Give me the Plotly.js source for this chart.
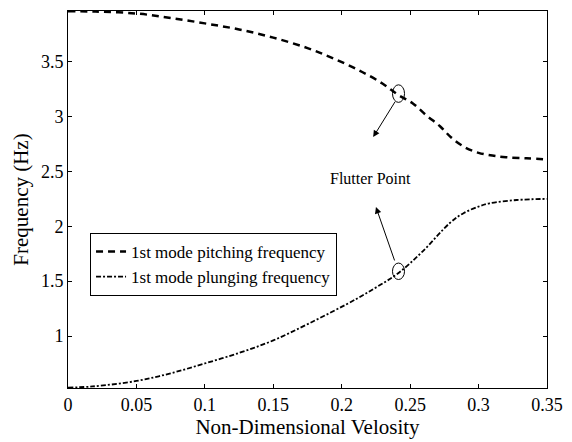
<!DOCTYPE html>
<html>
<head>
<meta charset="utf-8">
<script src="https://cdn.plot.ly/plotly-3.0.1.min.js"></script>
<style>html,body{margin:0;padding:0;background:#fff;}#chart{width:572px;height:442px;}</style>
</head>
<body>
<div id="chart"></div>
<script>
const vPitch = [0, 0.02, 0.05, 0.075, 0.1, 0.125, 0.15, 0.175, 0.194, 0.213, 0.23, 0.241, 0.252, 0.262, 0.272, 0.28, 0.29, 0.3, 0.31, 0.32, 0.335, 0.35];
const fPitch = [3.96, 3.958, 3.94, 3.90, 3.85, 3.795, 3.72, 3.625, 3.53, 3.42, 3.30, 3.20, 3.12, 3.01, 2.91, 2.81, 2.72, 2.67, 2.645, 2.63, 2.62, 2.61];
const vPlunge = [0, 0.018, 0.05, 0.075, 0.1, 0.126, 0.15, 0.177, 0.211, 0.226, 0.241, 0.259, 0.279, 0.289, 0.3, 0.308, 0.328, 0.35];
const fPlunge = [0.53, 0.54, 0.59, 0.66, 0.75, 0.85, 0.96, 1.12, 1.34, 1.45, 1.57, 1.77, 2.03, 2.12, 2.18, 2.21, 2.24, 2.25];
const seriesNames = ["1st mode pitching frequency", "1st mode plunging frequency"];
const xTicks = [0, 0.05, 0.1, 0.15, 0.2, 0.25, 0.3, 0.35];
const yTicks = [1, 1.5, 2, 2.5, 3, 3.5];
const flutterV = 0.2415;
const flutterPitch = 3.21;
const flutterPlunge = 1.59;

const font = "Liberation Serif, Times New Roman, serif";

const traces = [
  {x: vPitch, y: fPitch, name: seriesNames[0], mode: "lines",
   line: {color: "#000", width: 2.5, dash: "7px,5px", shape: "spline", smoothing: 1}},
  {x: vPlunge, y: fPlunge, name: seriesNames[1], mode: "lines",
   line: {color: "#000", width: 1.8, dash: "5px,2px,2px,2px", shape: "spline", smoothing: 1}}
];

const layout = {
  width: 572, height: 442,
  margin: {l: 68, r: 25, t: 11, b: 54},
  paper_bgcolor: "#fff", plot_bgcolor: "#fff",
  font: {family: font, size: 18, color: "#000"},
  showlegend: true,
  legend: {x: 0.046, y: 0.411, xanchor: "left", yanchor: "top",
           bordercolor: "#000", borderwidth: 1, bgcolor: "#fff",
           font: {family: font, size: 17}, tracegroupgap: 0, itemwidth: 30},
  xaxis: {range: [0, 0.35], tickvals: xTicks, ticktext: xTicks.map(String),
          ticks: "inside", ticklen: 4, tickcolor: "#000", showline: true, linecolor: "#000",
          mirror: "ticks", showgrid: false, zeroline: false,
          tickfont: {family: font, size: 18},
          title: {text: "Non-Dimensional Velosity", font: {family: font, size: 21}, standoff: 4}},
  yaxis: {range: [0.526, 3.963], tickvals: yTicks, ticktext: yTicks.map(String),
          ticks: "inside", ticklen: 4, tickcolor: "#000", showline: true, linecolor: "#000",
          mirror: "ticks", showgrid: false, zeroline: false,
          tickfont: {family: font, size: 18},
          title: {text: "Frequency (Hz)", font: {family: font, size: 21}, standoff: 6}},
  shapes: [
    {type: "circle", xref: "x", yref: "y", x0: flutterV - 0.0044, x1: flutterV + 0.0044,
     y0: flutterPitch - 0.08, y1: flutterPitch + 0.08, line: {color: "#000", width: 1}},
    {type: "circle", xref: "x", yref: "y", x0: flutterV - 0.0044, x1: flutterV + 0.0044,
     y0: flutterPlunge - 0.075, y1: flutterPlunge + 0.075, line: {color: "#000", width: 1}}
  ],
  annotations: [
    {x: 0.2207, y: 2.44, xref: "x", yref: "y", text: "Flutter Point", showarrow: false,
     font: {family: font, size: 16}},
    {x: 0.223, y: 2.814, xref: "x", yref: "y", ax: 0.2397, ay: 3.15, axref: "x", ayref: "y",
     text: "", showarrow: true, arrowhead: 2, arrowsize: 1.3, arrowwidth: 1, arrowcolor: "#000"},
    {x: 0.225, y: 2.176, xref: "x", yref: "y", ax: 0.239, ay: 1.675, axref: "x", ayref: "y",
     text: "", showarrow: true, arrowhead: 2, arrowsize: 1.3, arrowwidth: 1, arrowcolor: "#000"}
  ]
};

Plotly.newPlot("chart", traces, layout, {staticPlot: true, displayModeBar: false});
</script>
</body>
</html>
